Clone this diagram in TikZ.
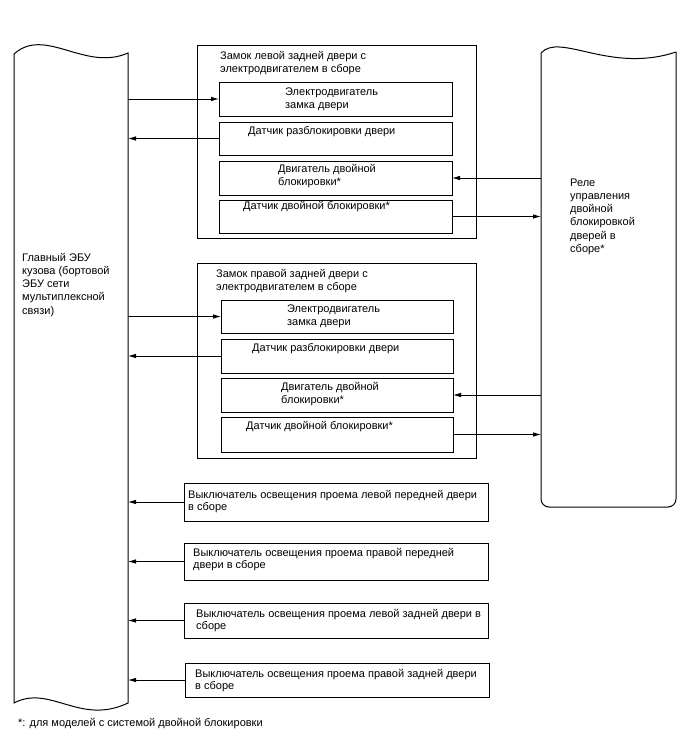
\documentclass[tikz,border=0pt]{standalone}
\usepackage{fontspec}
\setmainfont{Liberation Sans}
\usetikzlibrary{arrows.meta}
\begin{document}
\begin{tikzpicture}[x=1pt,y=-1pt,
  frame/.style={draw, line width=1pt, inner sep=0pt, outer sep=0pt, anchor=north west},
  ghost/.style={inner sep=0pt, outer sep=0pt, anchor=north west},
  lbl/.style={inner sep=0pt, anchor=base west, align=left, font=\fontsize{11}{13.3}\selectfont},
  swl/.style={lbl, font=\fontsize{11}{12.3}\selectfont},
  conn/.style={line width=0.8pt, -{Latex[length=8pt,width=4.5pt]}}]
\useasboundingbox (0,0) rectangle (688,755);

% main ECU (wavy top and bottom)
\node[ghost, minimum width=114pt, minimum height=650pt] (ecu) at (14,53) {};
\draw[line width=1pt] (14,54) .. controls (45,26) and (85,72) .. (128,53)
  -- (128,703) .. controls (80,726) and (50,684) .. (14,703) -- cycle;
\node[lbl] (ecut) at (22,314.2) {Главный ЭБУ\\кузова (бортовой\\ЭБУ сети\\мультиплексной\\связи)};

% relay
\node[ghost, minimum width=135pt, minimum height=455pt] (relay) at (541,52) {};
\draw[line width=1pt] (541,53) .. controls (560,32) and (610,74) .. (676,52);
\draw[line width=1pt, rounded corners=8pt] (676,52) -- (676,507) -- (541,507) -- (541,53);
\node[lbl] (relayt) at (570,252.5) {Реле\\управления\\двойной\\блокировкой\\дверей в\\сборе*};

% left rear door lock
\node[frame, minimum width=279pt, minimum height=193pt] (lock1) at (197,45) {};
\node[lbl] (lock1t) at (220,72.3) {Замок левой задней двери с\\электродвигателем в сборе};
\node[frame, minimum width=233pt, minimum height=34pt] (l1a) at (219,82) {};
\node[frame, minimum width=233pt, minimum height=33pt] (l1b) at (219,122) {};
\node[frame, minimum width=233pt, minimum height=34pt] (l1c) at (219,161) {};
\node[frame, minimum width=233pt, minimum height=33pt] (l1d) at (219,200) {};
\node[lbl] (l1at) at (285,108.3) {Электродвигатель\\замка двери};
\node[lbl] (l1bt) at (248,134) {Датчик разблокировки двери};
\node[lbl] (l1ct) at (278,185.3) {Двигатель двойной\\блокировки*};
\node[lbl] (l1dt) at (243,209) {Датчик двойной блокировки*};

% right rear door lock
\node[frame, minimum width=279pt, minimum height=195pt] (lock2) at (197,263) {};
\node[lbl] (lock2t) at (216,290.3) {Замок правой задней двери с\\электродвигателем в сборе};
\node[frame, minimum width=232pt, minimum height=33pt] (l2a) at (221,300) {};
\node[frame, minimum width=232pt, minimum height=34pt] (l2b) at (221,339) {};
\node[frame, minimum width=232pt, minimum height=34pt] (l2c) at (221,378) {};
\node[frame, minimum width=232pt, minimum height=35pt] (l2d) at (221,417) {};
\node[lbl] (l2at) at (287,325.3) {Электродвигатель\\замка двери};
\node[lbl] (l2bt) at (252,351) {Датчик разблокировки двери};
\node[lbl] (l2ct) at (281,403.3) {Двигатель двойной\\блокировки*};
\node[lbl] (l2dt) at (246,429) {Датчик двойной блокировки*};

% courtesy light switches
\node[frame, minimum width=304pt, minimum height=38pt] (sw1) at (184,483) {};
\node[frame, minimum width=304pt, minimum height=37pt] (sw2) at (184,543) {};
\node[frame, minimum width=304pt, minimum height=35pt] (sw3) at (184,603) {};
\node[frame, minimum width=304pt, minimum height=34pt] (sw4) at (185,663) {};
\node[swl] (sw1t) at (188,510.3) {Выключатель освещения проема левой передней двери\\в сборе};
\node[swl] (sw2t) at (193,568.3) {Выключатель освещения проема правой передней\\двери в сборе};
\node[swl] (sw3t) at (196,629.3) {Выключатель освещения проема левой задней двери в\\сборе};
\node[swl] (sw4t) at (195,689.3) {Выключатель освещения проема правой задней двери\\в сборе};

% footnote
\node[lbl] (note) at (18,726) {*: для моделей с системой двойной блокировки};

% connectors
\draw[conn] (ecu.east |- l1a.west) -- (l1a.west);
\draw[conn] (l1b.west) -- (l1b.west -| ecu.east);
\draw[conn] (l1c.east -| relay.west) -- (l1c.east);
\draw[conn] (l1d.east) -- (l1d.east -| relay.west);
\draw[conn] (ecu.east |- l2a.west) -- (l2a.west);
\draw[conn] (l2b.west) -- (l2b.west -| ecu.east);
\draw[conn] (l2c.east -| relay.west) -- (l2c.east);
\draw[conn] (l2d.east) -- (l2d.east -| relay.west);
\draw[conn] (sw1.west) -- (sw1.west -| ecu.east);
\draw[conn] (sw2.west) -- (sw2.west -| ecu.east);
\draw[conn] (sw3.west) -- (sw3.west -| ecu.east);
\draw[conn] (sw4.west) -- (sw4.west -| ecu.east);
\end{tikzpicture}
\end{document}
